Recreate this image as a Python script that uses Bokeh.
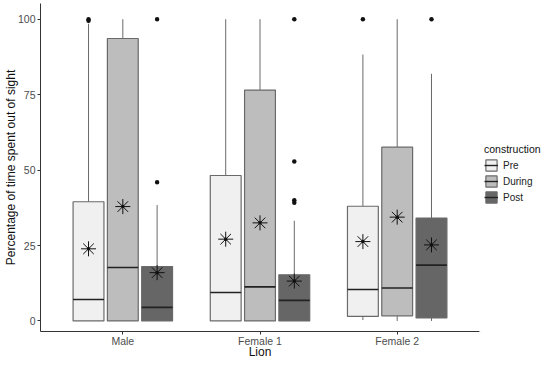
from bokeh.plotting import figure
from bokeh.models import (ColumnDataSource, FactorRange, Range1d, FixedTicker,
                          Legend, LegendItem)
from bokeh.transform import dodge
from bokeh.layouts import row
from bokeh.embed import file_html
from bokeh.resources import INLINE

# ---- data ----
lions = ["Male", "Female 1", "Female 2"]
phases = ["Pre", "During", "Post"]
fills = ["#F0F0F0", "#BDBDBD", "#666666"]

whisker_low = {"Pre": [0.0, 0.0, 0.3], "During": [0.0, 0.0, 0.0], "Post": [0.0, 0.0, 0.0]}
q1 = {"Pre": [0.0, 0.0, 1.5], "During": [0.0, 0.0, 1.7], "Post": [0.0, 0.0, 1.0]}
median = {"Pre": [7.1, 9.4, 10.4], "During": [17.7, 11.3, 10.9], "Post": [4.5, 6.8, 18.5]}
q3 = {"Pre": [39.5, 48.2, 38.0], "During": [93.6, 76.5, 57.6], "Post": [18.0, 15.3, 34.1]}
whisker_high = {"Pre": [98.5, 100.0, 88.3], "During": [100.0, 100.0, 100.0], "Post": [38.4, 33.2, 81.9]}
means = {"Pre": [23.9, 27.1, 26.3], "During": [37.9, 32.5, 34.4], "Post": [16.0, 13.2, 25.2]}

outlier_lion = ["Male", "Male", "Male", "Male", "Female 1", "Female 1", "Female 1", "Female 1", "Female 2", "Female 2"]
outlier_phase = ["Pre", "Pre", "Post", "Post", "Post", "Post", "Post", "Post", "Pre", "Post"]
outlier_value = [99.5, 100.0, 46.0, 100.0, 39.2, 40.0, 52.8, 100.0, 100.0, 100.0]

offsets = {"Pre": -0.25, "During": 0.0, "Post": 0.25}
box_w = 0.225
OUTLINE = "#6a6a6a"
MEDIAN = "#222222"

FONT = "Liberation Sans"

p = figure(x_range=FactorRange(factors=lions, range_padding=0.1, range_padding_units="absolute"),
           y_range=Range1d(-3.5, 105.2),
           width=479, height=361, output_backend="svg", toolbar_location=None,
           min_border_left=30, min_border_right=0, min_border_top=3, min_border_bottom=20)
p.outline_line_color = None
p.xgrid.grid_line_color = None
p.ygrid.grid_line_color = None
p.background_fill_color = "white"
p.border_fill_color = "white"

for ph, col in zip(phases, fills):
    src = ColumnDataSource(dict(lion=lions, lo=whisker_low[ph], q1=q1[ph], med=median[ph],
                                q3=q3[ph], hi=whisker_high[ph], mean=means[ph]))
    off = offsets[ph]
    xc = dodge("lion", off, range=p.x_range)
    xl = dodge("lion", off - box_w / 2, range=p.x_range)
    xr = dodge("lion", off + box_w / 2, range=p.x_range)
    p.segment(x0=xc, y0="q3", x1=xc, y1="hi", source=src, line_color=OUTLINE, line_width=1)
    p.segment(x0=xc, y0="lo", x1=xc, y1="q1", source=src, line_color=OUTLINE, line_width=1)
    p.vbar(x=xc, width=box_w, bottom="q1", top="q3", source=src,
           fill_color=col, line_color=OUTLINE, line_width=1.2)
    p.segment(x0=xl, y0="med", x1=xr, y1="med", source=src, line_color=MEDIAN, line_width=1.6)
    p.scatter(x=xc, y="mean", source=src, marker="asterisk", size=15, line_color="#111111", line_width=1)
    p.scatter(x=xc, y="mean", source=src, marker="circle", size=3.5, fill_color="#111111", line_color=None)

# outliers
for ph in phases:
    idx = [i for i, q in enumerate(outlier_phase) if q == ph]
    osrc = ColumnDataSource(dict(lion=[outlier_lion[i] for i in idx], v=[outlier_value[i] for i in idx]))
    p.scatter(x=dodge("lion", offsets[ph], range=p.x_range), y="v", source=osrc,
              marker="circle", size=4.5, fill_color="#111111", line_color=None)

# axes
for ax in (p.xaxis, p.yaxis):
    ax.axis_line_color = "#333333"
    ax.axis_line_width = 1
    ax.major_tick_line_color = "#333333"
    ax.major_tick_out = 3
    ax.major_tick_in = 0
    ax.minor_tick_line_color = None
    ax.major_label_text_color = "#4D4D4D"
    ax.major_label_text_font = FONT
    ax.major_label_text_font_size = "10.5px"
    ax.axis_label_text_font = FONT
    ax.axis_label_text_font_size = "12px"
    ax.axis_label_text_font_style = "normal"
    ax.axis_label_text_color = "#111111"
p.yaxis.ticker = FixedTicker(ticks=[0, 25, 50, 75, 100])
p.yaxis.axis_label = "Percentage of time spent out of sight"
p.yaxis.major_label_standoff = 2
p.yaxis.axis_label_standoff = -3
p.xaxis.axis_label = "Lion"
p.xaxis.major_label_standoff = 0
p.xaxis.axis_label_standoff = -5

# ---- legend panel (separate small figure so the legend is not clipped) ----
q = figure(width=63, height=361, output_backend="svg", toolbar_location=None,
           x_range=Range1d(0, 1), y_range=Range1d(0, 1),
           x_axis_type=None, y_axis_type=None,
           min_border_left=0, min_border_right=0, min_border_top=0, min_border_bottom=0)
q.outline_line_color = None
q.xgrid.grid_line_color = None
q.ygrid.grid_line_color = None

# legend key glyphs: one hidden row each, placed outside the visible range
items = []
for ph, col in zip(phases, fills):
    ksrc = ColumnDataSource(dict(x=[-5], b=[-5], t=[-4], x0=[-5], x1=[-4], y=[-5]))
    kb = q.vbar(x="x", width=0.1, bottom="b", top="t", source=ksrc,
                fill_color=col, line_color=OUTLINE, line_width=1.2)
    km = q.segment(x0="x0", y0="y", x1="x1", y1="y", source=ksrc, line_color=MEDIAN, line_width=1.4)
    items.append(LegendItem(label=ph, renderers=[kb, km]))

legend = Legend(items=items, location=(5, 127), title="construction")
legend.title_text_font = FONT
legend.title_text_font_size = "10.5px"
legend.title_text_font_style = "normal"
legend.title_text_color = "#111111"
legend.title_standoff = 3
legend.label_text_font = FONT
legend.label_text_font_size = "10px"
legend.label_text_color = "#222222"
legend.label_standoff = 5
legend.glyph_width = 14
legend.glyph_height = 14
legend.spacing = 2
legend.padding = 0
legend.margin = 0
legend.border_line_color = None
legend.background_fill_alpha = 0
q.add_layout(legend, "center")

layout = row(p, q)
open("out.html", "w").write(file_html(layout, INLINE))
